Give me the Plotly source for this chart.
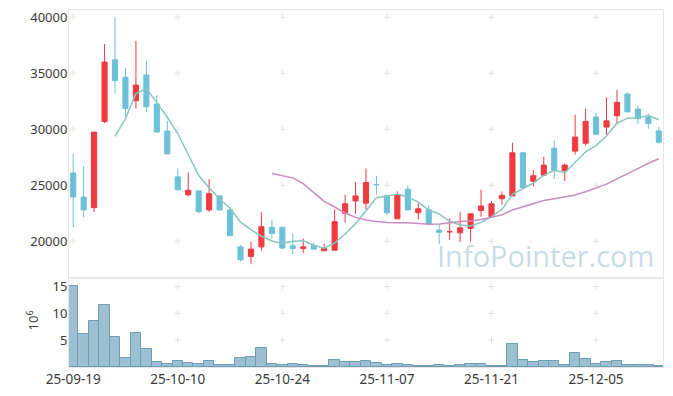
import plotly.graph_objects as go
import pandas as pd

dates = [
    "2025-09-19", "2025-09-22", "2025-09-23", "2025-09-24", "2025-09-25", "2025-09-26",
    "2025-09-29", "2025-09-30", "2025-10-01", "2025-10-02", "2025-10-10",
    "2025-10-13", "2025-10-14", "2025-10-15", "2025-10-16", "2025-10-17",
    "2025-10-20", "2025-10-21", "2025-10-22", "2025-10-23", "2025-10-24",
    "2025-10-27", "2025-10-28", "2025-10-29", "2025-10-30", "2025-10-31",
    "2025-11-03", "2025-11-04", "2025-11-05", "2025-11-06", "2025-11-07",
    "2025-11-10", "2025-11-11", "2025-11-12", "2025-11-13", "2025-11-14",
    "2025-11-17", "2025-11-18", "2025-11-19", "2025-11-20", "2025-11-21",
    "2025-11-24", "2025-11-25", "2025-11-26", "2025-11-27", "2025-11-28",
    "2025-12-01", "2025-12-02", "2025-12-03", "2025-12-04", "2025-12-05",
    "2025-12-08", "2025-12-09", "2025-12-10", "2025-12-11", "2025-12-12",
    "2025-12-15",
]

open_ = [26100, 23950, 23000, 30700, 36200, 34650, 32550, 34850, 32250, 29850,
         25750, 24150, 24500, 22800, 24050, 22800, 19500, 18650, 19500, 21250,
         21250, 19600, 19350, 19600, 19150, 19200, 22500, 23600, 23400, 25050,
         24100, 22000, 24650, 22550, 22800, 21000, 20850, 20750, 21150, 22750,
         22200, 23800, 24050, 27900, 25350, 25900, 28300, 26300, 28050, 28750,
         31100, 30200, 31200, 33150, 31800, 31050, 29850]
high = [27800, 26700, 29750, 37600, 40050, 35450, 37900, 36100, 33050, 30750,
        26500, 26150, 24500, 25550, 24100, 22850, 19650, 19950, 22600, 21950,
        21250, 20700, 20250, 19900, 19800, 22850, 24150, 25300, 26500, 25850,
        24150, 24450, 25000, 23400, 23200, 21500, 22050, 22600, 22500, 24600,
        23600, 24450, 28800, 27950, 26350, 27550, 29000, 26950, 31300, 31850,
        31450, 32850, 33500, 33300, 32100, 31400, 30200]
low = [21250, 22150, 22600, 30550, 33200, 31100, 31850, 31550, 29700, 27800,
       24550, 24000, 22500, 22600, 22750, 20500, 18200, 17950, 19150, 20250,
       19300, 18800, 18950, 19300, 19150, 19200, 21650, 22450, 22850, 24150,
       22350, 22000, 22800, 21950, 21550, 19750, 20100, 19950, 20000, 22200,
       22200, 23250, 24050, 24750, 24900, 25900, 25550, 25400, 27750, 28550,
       29550, 29500, 30450, 31550, 30450, 30050, 28700]
close = [23950, 22800, 29750, 36000, 34350, 31850, 33950, 32000, 29750, 27800,
         24600, 24550, 22650, 24250, 22800, 20500, 18350, 19300, 21300, 20700,
         19400, 19350, 19500, 19300, 19350, 21750, 23350, 24050, 25250, 25050,
         22550, 24150, 22800, 22900, 21550, 20800, 20850, 21200, 22450, 23150,
         23350, 24100, 27900, 24800, 25850, 26800, 26350, 26800, 29300, 30700,
         29550, 30750, 32400, 31550, 30950, 30500, 28850]
volume_m = [15.1, 6.17, 8.58, 11.6, 5.6, 1.73, 6.35, 3.4, 0.99, 0.62,
            1.17, 0.80, 0.62, 1.17, 0.43, 0.43, 1.73, 1.91, 3.58, 0.62,
            0.43, 0.62, 0.43, 0.25, 0.25, 1.36, 0.99, 0.99, 1.17, 0.80,
            0.43, 0.62, 0.43, 0.20, 0.20, 0.43, 0.20, 0.37, 0.62, 0.62,
            0.20, 0.20, 4.32, 1.36, 0.99, 1.17, 1.17, 0.37, 2.65, 1.54,
            0.62, 0.99, 1.17, 0.37, 0.37, 0.37, 0.20]

price_ticks = [20000, 25000, 30000, 35000, 40000]
volume_ticks = [5, 10, 15]
x_tick_idx = [0, 10, 20, 30, 40, 50]
x_tick_text = ["25-09-19", "25-10-10", "25-10-24", "25-11-07", "25-11-21", "25-12-05"]

ma5 = pd.Series(close).rolling(5).mean()
ma20 = pd.Series(close).rolling(20).mean()

UP = "#ef3b40"
DOWN = "#6cc1d9"
GRID = "#e2e2e2"
TXT = "#3a3a3a"

fig = go.Figure()

fig.add_trace(go.Candlestick(
    x=dates, open=open_, high=high, low=low, close=close,
    increasing=dict(line=dict(color=UP, width=1), fillcolor=UP),
    decreasing=dict(line=dict(color=DOWN, width=1), fillcolor=DOWN),
    whiskerwidth=0, showlegend=False, xaxis="x", yaxis="y"))

fig.add_trace(go.Scatter(x=dates, y=ma5, mode="lines", showlegend=False,
                         line=dict(color="#86c7bf", width=1.5), xaxis="x", yaxis="y"))
fig.add_trace(go.Scatter(x=dates, y=ma20, mode="lines", showlegend=False,
                         line=dict(color="#c98cc2", width=1.5), xaxis="x", yaxis="y"))

fig.add_trace(go.Bar(x=dates, y=volume_m, showlegend=False,
                     marker=dict(color="#9cc0d1", line=dict(color="#6f9db3", width=1)),
                     xaxis="x2", yaxis="y2"))

# small grid crosses at tick intersections, drawn below the data
shapes = []
for xr_, yr_, yticks in (("x", "y", price_ticks), ("x2", "y2", volume_ticks)):
    for i in x_tick_idx:
        for v in yticks:
            common = dict(type="line", xref=xr_, yref=yr_, layer="below",
                          xsizemode="pixel", ysizemode="pixel",
                          xanchor=i, yanchor=v, line=dict(color=GRID, width=1))
            shapes.append(dict(x0=-3, x1=3, y0=0, y1=0, **common))
            shapes.append(dict(x0=0, x1=0, y0=-3, y1=3, **common))

split = (367 - 278) / 357
xr = [-0.4, 56.4]
axis_common = dict(showline=True, mirror=True, linecolor="#e6e6e6", linewidth=1,
                   showgrid=False, zeroline=False, ticks="", automargin=False)

fig.update_layout(
    width=673, height=396,
    margin=dict(l=69, r=10, t=10, b=29, autoexpand=False),
    paper_bgcolor="white", plot_bgcolor="white",
    font=dict(family="Noto Sans", size=13, color=TXT),
    bargap=0,
    shapes=shapes,
    xaxis=dict(type="category", domain=[0, 1], anchor="y", range=xr,
               rangeslider=dict(visible=False), showticklabels=False,
               categoryorder="array", categoryarray=dates, **axis_common),
    yaxis=dict(domain=[split, 1], anchor="x", range=[16720, 40650],
               tickvals=price_ticks, ticktext=[str(v) for v in price_ticks],
               tickfont=dict(size=13, color=TXT), ticklabelstandoff=-2, **axis_common),
    xaxis2=dict(type="category", domain=[0, 1], anchor="y2", range=xr,
                matches="x", categoryorder="array", categoryarray=dates,
                tickvals=[dates[i] for i in x_tick_idx], ticktext=x_tick_text,
                tickfont=dict(size=13.5, color=TXT), **axis_common),
    yaxis2=dict(domain=[0, split], anchor="x2", range=[0, 16.6],
                tickvals=volume_ticks, ticktext=[str(v) for v in volume_ticks],
                tickfont=dict(size=13, color=TXT), ticklabelstandoff=-2,
                **axis_common),
    annotations=[
        dict(text="InfoPointer.com", xref="paper", yref="paper",
             x=0.803, y=0.311, xanchor="center", yanchor="middle",
             showarrow=False,
             font=dict(family="Open Sans", size=29, color="rgba(165,195,212,0.6)")),
        dict(text="10<sup>6</sup>", xref="paper", yref="paper",
             x=-0.0614, y=0.129, xanchor="center", yanchor="middle",
             textangle=-90, showarrow=False,
             font=dict(family="Noto Sans", size=13, color=TXT)),
    ],
)

fig.write_html("out.html", config={"displayModeBar": False},
               post_script="document.body.style.margin='0px';")
